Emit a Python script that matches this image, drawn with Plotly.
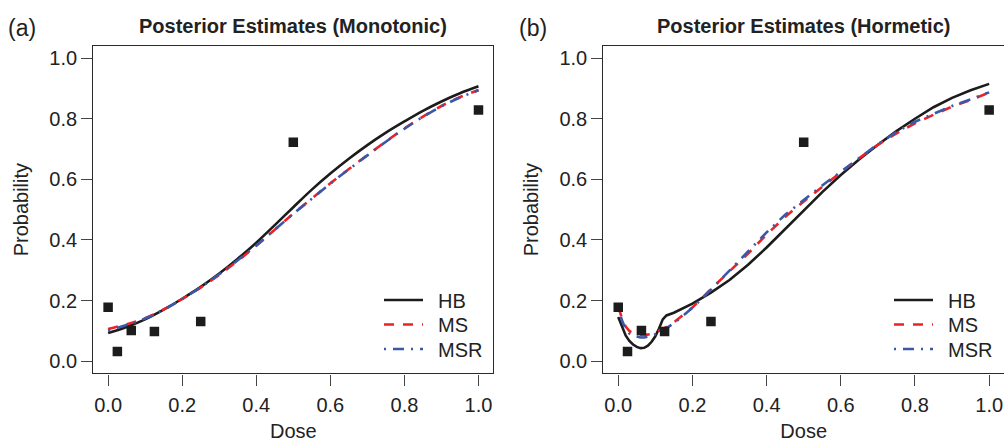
import plotly.graph_objects as go

# ---------------- data ----------------
dose_obs = [0.0, 0.025, 0.0625, 0.125, 0.25, 0.5, 1.0]
prob_obs = [0.178, 0.032, 0.101, 0.098, 0.131, 0.722, 0.829]

dose_a = [0.0, 0.05, 0.1, 0.15, 0.2, 0.25, 0.3, 0.35, 0.4, 0.45, 0.5,
          0.55, 0.6, 0.65, 0.7, 0.75, 0.8, 0.85, 0.9, 0.95, 1.0]
hb_a = [0.093, 0.113, 0.138, 0.170, 0.206, 0.245, 0.289, 0.338, 0.391, 0.449, 0.508,
        0.566, 0.619, 0.668, 0.713, 0.754, 0.791, 0.826, 0.857, 0.884, 0.907]
ms_a = [0.106, 0.122, 0.142, 0.171, 0.205, 0.243, 0.285, 0.331, 0.381, 0.434, 0.487,
        0.537, 0.587, 0.634, 0.680, 0.725, 0.768, 0.807, 0.842, 0.871, 0.895]
msr_a = [0.101, 0.119, 0.141, 0.170, 0.205, 0.244, 0.287, 0.333, 0.382, 0.434, 0.486,
         0.536, 0.586, 0.633, 0.679, 0.724, 0.767, 0.806, 0.841, 0.870, 0.894]

dose_b = [0.0, 0.01, 0.02, 0.03, 0.04, 0.05, 0.06, 0.07, 0.08, 0.09, 0.1,
          0.11, 0.12, 0.13, 0.15, 0.2, 0.25, 0.3, 0.35, 0.4, 0.45, 0.5,
          0.55, 0.6, 0.65, 0.7, 0.75, 0.8, 0.85, 0.9, 0.95, 1.0]
hb_b = [0.146, 0.112, 0.085, 0.067, 0.055, 0.047, 0.043, 0.044, 0.051, 0.064, 0.082,
        0.108, 0.138, 0.151, 0.160, 0.190, 0.226, 0.268, 0.318, 0.375, 0.437, 0.498,
        0.558, 0.614, 0.666, 0.714, 0.759, 0.800, 0.838, 0.869, 0.894, 0.915]
ms_b = [0.179, 0.142, 0.114, 0.100, 0.093, 0.089, 0.086, 0.086, 0.087, 0.090, 0.094,
        0.100, 0.106, 0.113, 0.128, 0.177, 0.238, 0.295, 0.355, 0.418, 0.476, 0.527,
        0.576, 0.623, 0.670, 0.714, 0.752, 0.785, 0.813, 0.840, 0.862, 0.886]
msr_b = [0.175, 0.135, 0.106, 0.091, 0.084, 0.080, 0.078, 0.078, 0.080, 0.084, 0.089,
         0.095, 0.102, 0.109, 0.125, 0.176, 0.236, 0.298, 0.361, 0.425, 0.483, 0.533,
         0.580, 0.625, 0.671, 0.716, 0.756, 0.790, 0.816, 0.842, 0.864, 0.887]

tick_vals = [0.0, 0.2, 0.4, 0.6, 0.8, 1.0]
tick_text = ["0.0", "0.2", "0.4", "0.6", "0.8", "1.0"]

panel_titles = ["Posterior Estimates (Monotonic)", "Posterior Estimates (Hormetic)"]
panel_tags = ["(a)", "(b)"]
series_names = ["HB", "MS", "MSR"]

# ---------------- styling ----------------
W, H = 1004, 442
FONT = "Liberation Sans, Arial, Helvetica, sans-serif"
TXT = "#222222"
BLACK = "#1c1c1c"
RED = "#ec2227"
BLUE = "#3b57a8"
FS = 20
styles = {
    "HB": dict(color=BLACK, width=2.6, dash="solid"),
    "MS": dict(color=RED, width=2.6, dash="10px,9px"),
    "MSR": dict(color=BLUE, width=2.6, dash="2px,7px,11px,7px"),
}

def px_x(v):
    return v / W

def px_y(v):
    return 1 - v / H

fig = go.Figure()

panels = [
    dict(dose=dose_a, curves=[hb_a, ms_a, msr_a], xa="x", ya="y", shape="spline", leg_x=379),
    dict(dose=dose_b, curves=[hb_b, ms_b, msr_b], xa="x2", ya="y2", shape="linear", leg_x=889),
]
row_y = [300, 324.5, 349]

legend_layouts = {}
leg_idx = 0
for p in panels:
    for k, (name, vals) in enumerate(zip(series_names, p["curves"])):
        leg_idx += 1
        leg_name = "legend" if leg_idx == 1 else "legend%d" % leg_idx
        fig.add_trace(go.Scatter(
            x=p["dose"], y=vals, mode="lines", name="\u2002" + name,
            line=dict(color=styles[name]["color"], width=styles[name]["width"],
                      dash=styles[name]["dash"], shape=p["shape"]),
            xaxis=p["xa"], yaxis=p["ya"], legend=leg_name, showlegend=True,
            hovertemplate=name + ": %{y:.3f}<extra></extra>",
        ))
        legend_layouts[leg_name] = dict(
            x=px_x(p["leg_x"]), y=px_y(row_y[k]), xanchor="left", yanchor="middle",
            bgcolor="rgba(0,0,0,0)", borderwidth=0, itemwidth=39,
            font=dict(family=FONT, size=FS, color=TXT),
        )
    fig.add_trace(go.Scatter(
        x=dose_obs, y=prob_obs, mode="markers", name="Observed",
        marker=dict(symbol="square", size=9.5, color=BLACK),
        xaxis=p["xa"], yaxis=p["ya"], showlegend=False,
    ))

ydom = [px_y(373.3), px_y(46)]
xdom_a = [px_x(93.3), px_x(493.3)]
xdom_b = [px_x(603.4), 1.0]

axis_common = dict(
    showgrid=False, zeroline=False, showline=True, mirror=True,
    linecolor="#2a2a2a", linewidth=1.4,
    ticks="outside", ticklen=11, tickwidth=1.3, tickcolor="#444444",
    tickvals=tick_vals, ticktext=tick_text,
    tickfont=dict(family=FONT, size=FS, color=TXT),
    range=[-0.04, 1.04], fixedrange=True, automargin=False,
)

fig.update_layout(
    width=W, height=H, autosize=False,
    margin=dict(l=0, r=0, t=0, b=0, autoexpand=False),
    paper_bgcolor="white", plot_bgcolor="white",
    font=dict(family=FONT, color=TXT),
    xaxis=dict(domain=xdom_a, anchor="y", **axis_common, ticklabelstandoff=2,
               title=dict(text="Dose", font=dict(size=FS))),
    yaxis=dict(domain=ydom, anchor="x", **axis_common,
               title=dict(text="Probability", font=dict(size=FS))),
    xaxis2=dict(domain=xdom_b, anchor="y2", **axis_common, ticklabelstandoff=2,
                title=dict(text="Dose", font=dict(size=FS))),
    yaxis2=dict(domain=ydom, anchor="x2", **axis_common,
                title=dict(text="Probability", font=dict(size=FS))),
    showlegend=True,
    **legend_layouts,
)

centers = [(xdom_a[0] + xdom_a[1]) / 2, (xdom_b[0] + px_x(1004.5)) / 2]
tag_x = [px_x(6), px_x(517)]
for cx, tx, title, tag in zip(centers, tag_x, panel_titles, panel_tags):
    fig.add_annotation(x=cx, y=px_y(26), xref="paper", yref="paper",
                       text="<b>" + title + "</b>", showarrow=False,
                       xanchor="center", yanchor="middle",
                       font=dict(family=FONT, size=20, color=TXT))
    fig.add_annotation(x=tx, y=px_y(28), xref="paper", yref="paper",
                       text=tag, showarrow=False,
                       xanchor="left", yanchor="middle",
                       font=dict(family=FONT, size=23, color=TXT))

fig.write_html(
    "out.html",
    config={"displayModeBar": False},
    post_script="document.body.style.margin='0';document.body.style.overflow='hidden';",
)
